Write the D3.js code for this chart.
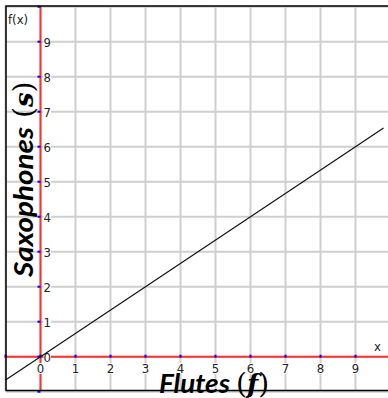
<!DOCTYPE html>
<html><head><meta charset="utf-8">
<script src="https://cdn.jsdelivr.net/npm/d3@7/dist/d3.min.js"></script>
<style>html,body{margin:0;padding:0;background:#fff;}svg{display:block;}</style>
</head><body>
<script>
const xTickLabels = ["0","1","2","3","4","5","6","7","8","9"];
const yTickLabels = ["0","1","2","3","4","5","6","7","8","9"];
const xTickValues = [0,1,2,3,4,5,6,7,8,9];
const yTickValues = [0,1,2,3,4,5,6,7,8,9];
const lineF = [-1, 0, 3, 6, 9, 9.8];
const lineS = [-0.667, 0, 2, 4, 6, 6.533];
const xTitle = "Flutes";
const xVar = "f";
const yTitle = "Saxophones";
const yVar = "s";

(function () {
const W = 388, H = 398;
const svg = d3.select("body").append("svg").attr("width", W).attr("height", H);
const x = d3.scaleLinear().domain([0, 9]).range([40.5, 355.5]);
const y = d3.scaleLinear().domain([0, 9]).range([356.7, 41.7]);
const pL = 6, pT = 6, pB = 390.5, pR = W;

// grid
const gx = d3.range(-1, 10);
const gy = d3.range(-1, 11);
svg.append("g").selectAll("line").data(gx).join("line")
  .attr("x1", d => x(d)).attr("x2", d => x(d)).attr("y1", pT).attr("y2", pB)
  .attr("stroke", "#cfcfcf").attr("stroke-width", 2);
svg.append("g").selectAll("line").data(gy).join("line")
  .attr("y1", d => y(d)).attr("y2", d => y(d)).attr("x1", pL).attr("x2", pR)
  .attr("stroke", "#cfcfcf").attr("stroke-width", 2);

// axes (red)
svg.append("line").attr("x1", pL).attr("x2", pR).attr("y1", y(0)).attr("y2", y(0))
  .attr("stroke", "#ff3030").attr("stroke-width", 2);
svg.append("line").attr("x1", x(0)).attr("x2", x(0)).attr("y1", pT).attr("y2", pB)
  .attr("stroke", "#ff3030").attr("stroke-width", 2);

// blue tick marks
svg.append("g").selectAll("line").data(d3.range(-1, 10)).join("line")
  .attr("x1", d => x(d)).attr("x2", d => x(d)).attr("y1", y(0) - 2).attr("y2", y(0) + 1)
  .attr("stroke", "#0000ff").attr("stroke-width", 2);
svg.append("g").selectAll("line").data(d3.range(-1, 11)).join("line")
  .attr("y1", d => y(d)).attr("y2", d => y(d)).attr("x1", x(0) - 3).attr("x2", x(0))
  .attr("stroke", "#0000ff").attr("stroke-width", 2);

// tick labels
const fontT = "'DejaVu Sans Condensed', 'DejaVu Sans', sans-serif";
const xl = svg.append("g");
xTickValues.forEach((v, i) => {
  const t = xl.append("text").attr("x", x(v)).attr("y", 373).attr("text-anchor", "middle")
    .attr("font-family", fontT).attr("font-size", 13).attr("fill", "#222").text(xTickLabels[i]);
  const b = t.node().getBBox();
  xl.insert("rect", "text").attr("x", b.x).attr("y", b.y + 2).attr("width", b.width).attr("height", b.height - 4).attr("fill", "#fff");
});
const yl = svg.append("g");
yTickValues.forEach((v, i) => {
  const t = yl.append("text").attr("x", x(0) + 3).attr("y", y(v) + 5).attr("text-anchor", "start")
    .attr("font-family", fontT).attr("font-size", 13).attr("fill", "#222").text(yTickLabels[i]);
  const b = t.node().getBBox();
  yl.insert("rect", "text").attr("x", b.x).attr("y", b.y + 2).attr("width", b.width).attr("height", b.height - 4).attr("fill", "#fff");
});
svg.append("text").attr("x", 8).attr("y", 24).attr("font-family", fontT).attr("font-size", 13).attr("fill", "#222").text("f(x)");
svg.append("text").attr("x", 374).attr("y", 351).attr("font-family", fontT).attr("font-size", 13).attr("fill", "#222").text("x");

// the line
const pts = lineF.map((f, i) => [f, lineS[i]]);
svg.append("path").datum(pts)
  .attr("d", d3.line().x(d => x(d[0])).y(d => y(d[1])))
  .attr("fill", "none").attr("stroke", "#111").attr("stroke-width", 1.2);

// frame
svg.append("path").attr("d", `M${pR},${pT}H${pL}V${pB}H${pR}`)
  .attr("fill", "none").attr("stroke", "#000").attr("stroke-width", 1.5);

// titles
const fontTitle = "Lato, 'Open Sans', sans-serif";
const mathFont = "'DejaVu Serif', serif";
function title(g, word, wordLen, v, gapPos) {
  g.append("text").attr("x", 0).attr("y", 0)
    .attr("font-family", fontTitle).attr("font-weight", "bold").attr("font-style", "italic")
    .attr("font-size", 27).attr("fill", "#000")
    .attr("textLength", wordLen).attr("lengthAdjust", "spacingAndGlyphs").text(word);
  const m = g.append("text").attr("x", gapPos).attr("y", 0)
    .attr("font-family", mathFont).attr("font-size", 28).attr("fill", "#000");
  m.append("tspan").text("(");
  m.append("tspan").attr("font-style", "italic").attr("font-weight", "bold").attr("font-size", 26).text(v);
  m.append("tspan").text(")");
}
title(svg.append("g").attr("transform", "translate(159,393)"), xTitle, 71, xVar, 77);
title(svg.append("g").attr("transform", "translate(33,277) rotate(-90)"), yTitle, 150, yVar, 159);
})();
</script>
</body></html>
